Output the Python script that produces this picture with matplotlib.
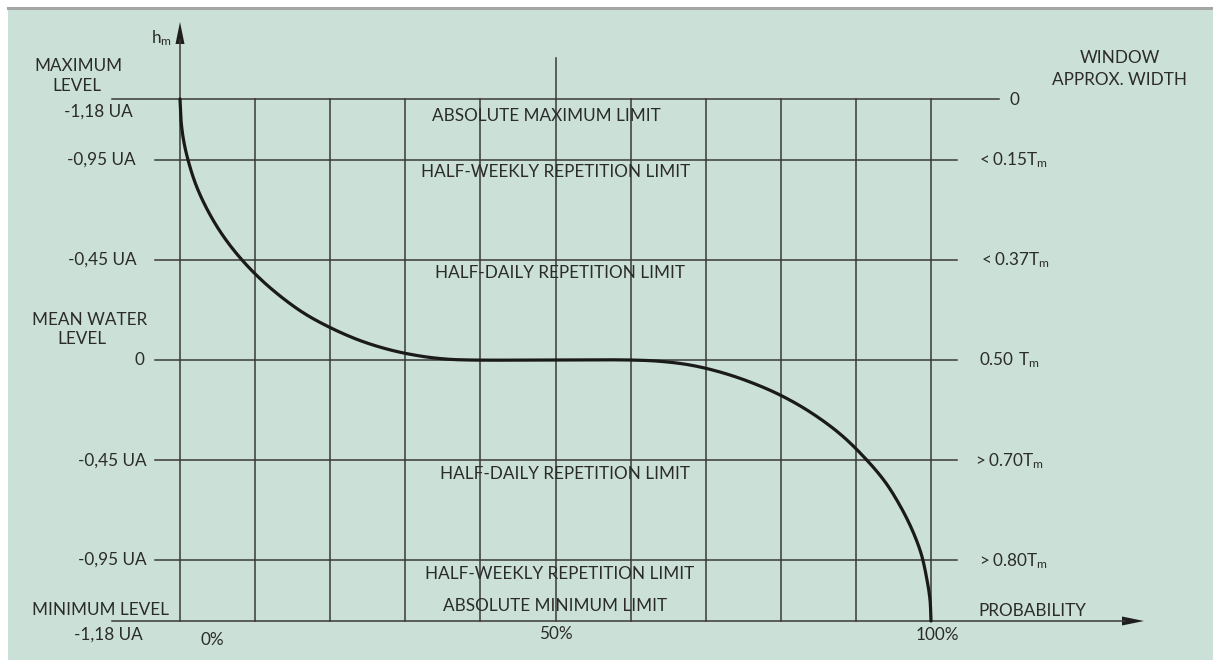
import matplotlib
matplotlib.use("Agg")
import numpy as np
import matplotlib.pyplot as plt
from matplotlib.patches import Rectangle, Polygon

plt.rcParams['font.family'] = ['Lato', 'DejaVu Sans']
plt.rcParams['mathtext.fontset'] = 'custom'
plt.rcParams['mathtext.rm'] = 'Lato'

# ---- data -------------------------------------------------------------
# probability (%) along the horizontal axis
prob_ticks = [0, 50, 100]
prob_tick_labels = ["0%", "50%", "100%"]
grid_probs = [0, 10, 20, 30, 40, 50, 60, 70, 80, 90, 100]

# reference levels (plot units: 0 = mean water level)
levels = [2.61, 2.0, 1.0, 0.0, -1.0, -2.0, -2.61]
level_labels = ["-1,18 UA", "-0,95 UA", "-0,45 UA", "0",
                "-0,45 UA", "-0,95 UA", "-1,18 UA"]
window_labels = ["0", r"$\mathregular{< 0.15T_m}$", r"$\mathregular{< 0.37T_m}$",
                 r"$\mathregular{0.50\ T_m}$", r"$\mathregular{> 0.70T_m}$",
                 r"$\mathregular{> 0.80T_m}$"]
band_labels = ["ABSOLUTE MAXIMUM LIMIT", "HALF-WEEKLY REPETITION LIMIT",
               "HALF-DAILY REPETITION LIMIT", "HALF-DAILY REPETITION LIMIT",
               "HALF-WEEKLY REPETITION LIMIT", "ABSOLUTE MINIMUM LIMIT"]

# exceedance curve of the water level
curve_prob = [0.0, 0.13, 0.47, 1.07, 2.13, 3.66, 5.66, 8.26, 11.58, 15.85,
              19.31, 23.78, 28.04, 31.96, 35.3, 38.6, 50.0, 59.9, 63.9,
              67.9, 71.9, 75.9, 79.9, 83.9, 87.9, 91.2, 93.9, 95.9, 97.5,
              98.7, 99.47, 99.87, 100.0]
curve_level = [2.61, 2.40, 2.20, 2.00, 1.75, 1.50, 1.25, 1.00, 0.75, 0.50,
               0.35, 0.20, 0.10, 0.04, 0.01, 0.0, 0.0, 0.0, -0.013,
               -0.05, -0.12, -0.22, -0.35, -0.52, -0.74, -0.98, -1.22,
               -1.46, -1.70, -1.94, -2.20, -2.40, -2.61]

# ---- figure -----------------------------------------------------------
W, H = 1213, 660
fig = plt.figure(figsize=(W / 100, H / 100), dpi=100, facecolor="white")
fig.patches.append(Rectangle((8 / W, 0), 1 - 8 / W, (H - 9) / H,
                             transform=fig.transFigure, facecolor="#cbe0d7",
                             edgecolor="none", zorder=-10))
fig.lines.append(plt.Line2D([8 / W, 1], [(H - 8) / H] * 2,
                            transform=fig.transFigure, color="#a3a6a5", lw=2.2,
                            zorder=-9))

X0, X1, YT, YB = 180, 931, 99, 621
ax = fig.add_axes([X0 / W, (H - YB) / H, (X1 - X0) / W, (YB - YT) / H])
ax.set_zorder(5)
ax.set_xlim(0, 100)
ax.set_ylim(-2.61, 2.61)
ax.axis("off")
ax.patch.set_alpha(0)

sx = (X1 - X0) / 100.0
sy = (360 - YT) / 2.61


def px(x, y):
    """pixel position -> data coordinates"""
    return (x - X0) / sx, (360 - y) / sy


def catmull_rom(xs, ys, steps=16):
    """centripetal Catmull-Rom path through the given points (drawing only)"""
    p = np.column_stack([np.asarray(xs) * sx, np.asarray(ys) * sy])
    p = np.vstack([2 * p[0] - p[1], p, 2 * p[-1] - p[-2]])
    out = []
    for i in range(1, len(p) - 2):
        P0, P1, P2, P3 = p[i - 1], p[i], p[i + 1], p[i + 2]
        t0 = 0.0
        t1 = t0 + np.linalg.norm(P1 - P0) ** 0.5
        t2 = t1 + np.linalg.norm(P2 - P1) ** 0.5
        t3 = t2 + np.linalg.norm(P3 - P2) ** 0.5
        t = np.linspace(t1, t2, steps, endpoint=False)[:, None]
        A1 = (t1 - t) / (t1 - t0) * P0 + (t - t0) / (t1 - t0) * P1
        A2 = (t2 - t) / (t2 - t1) * P1 + (t - t1) / (t2 - t1) * P2
        A3 = (t3 - t) / (t3 - t2) * P2 + (t - t2) / (t3 - t2) * P3
        B1 = (t2 - t) / (t2 - t0) * A1 + (t - t0) / (t2 - t0) * A2
        B2 = (t3 - t) / (t3 - t1) * A2 + (t - t1) / (t3 - t1) * A3
        out.append((t2 - t) / (t2 - t1) * B1 + (t - t1) / (t2 - t1) * B2)
    out.append(p[-2][None, :])
    c = np.vstack(out)
    return c[:, 0] / sx, c[:, 1] / sy


grid_kw = dict(color="#3a3a3a", lw=1.1, clip_on=False, zorder=2)
txt_kw = dict(color="#2b2b2b", fontsize=12.3, clip_on=False)

# horizontal level lines
for i, lv in enumerate(levels):
    if i == 0:
        xa, xb = 112, 999
    elif i == len(levels) - 1:
        xa, xb = 112, 1125
    else:
        xa, xb = 155, 957
    ax.plot([px(xa, 0)[0], px(xb, 0)[0]], [lv, lv], **grid_kw)

# vertical probability lines
for p in grid_probs:
    top = levels[0]
    if p == 50:
        top = px(0, 58)[1]
    if p == 0:
        top = px(0, 40)[1]
    ax.plot([p, p], [levels[-1], top], **grid_kw)

# arrowheads on the two axes
tip = px(180, 22)
ax.add_patch(Polygon([tip, px(175.5, 44), px(184.5, 44)], closed=True,
                     facecolor="#1e1e1e", edgecolor="none", clip_on=False))
tip = px(1144, 621)
ax.add_patch(Polygon([tip, px(1122, 616.5), px(1122, 625.5)], closed=True,
                     facecolor="#1e1e1e", edgecolor="none", clip_on=False))

# the curve
cx, cy = catmull_rom(curve_prob, curve_level)
ax.plot(cx, cy, color="#1a1a1a", lw=2.3, clip_on=False,
        zorder=3, solid_capstyle="round")

# left level labels
left_pos = [(133, 112), (136, 160), (137, 260), (144, 360),
            (147, 461), (147, 560), (143, 635)]
for (x, y), lab in zip(left_pos, level_labels):
    ax.text(*px(x, y), lab, ha="right", va="center", **txt_kw)

ax.text(*px(78, 66), "MAXIMUM", ha="center", va="center", **txt_kw)
ax.text(*px(77, 86), "LEVEL", ha="center", va="center", **txt_kw)
ax.text(*px(90, 320), "MEAN WATER", ha="center", va="center", **txt_kw)
ax.text(*px(82, 339), "LEVEL", ha="center", va="center", **txt_kw)
ax.text(*px(32, 610), "MINIMUM LEVEL", ha="left", va="center", **txt_kw)
ax.text(*px(172, 38), r"$\mathregular{h_m}$", ha="right", va="center", **txt_kw)

# right window-width labels
right_pos = [(1010, 100), (976, 160), (978, 260), (979, 360),
             (972, 461), (976, 561)]
for (x, y), lab in zip(right_pos, window_labels):
    ax.text(*px(x, y), lab, ha="left", va="center", **txt_kw)
ax.text(*px(1120, 58), "WINDOW", ha="center", va="center", **txt_kw)
ax.text(*px(1120, 80), "APPROX. WIDTH", ha="center", va="center", **txt_kw)
ax.text(*px(978, 611), "PROBABILITY", ha="left", va="center", **txt_kw)

# band labels
band_pos = [(546, 116), (556, 172), (560, 273), (565, 474),
            (560, 574), (555, 606)]
for (x, y), lab in zip(band_pos, band_labels):
    ax.text(*px(x, y), lab, ha="center", va="center", **txt_kw)

# probability tick labels
tick_pos = [(212, 640), (556, 634), (937, 635)]
for (x, y), lab in zip(tick_pos, prob_tick_labels):
    ax.text(*px(x, y), lab, ha="center", va="center", **txt_kw)

fig.savefig("out.png", dpi=100, facecolor="white")
